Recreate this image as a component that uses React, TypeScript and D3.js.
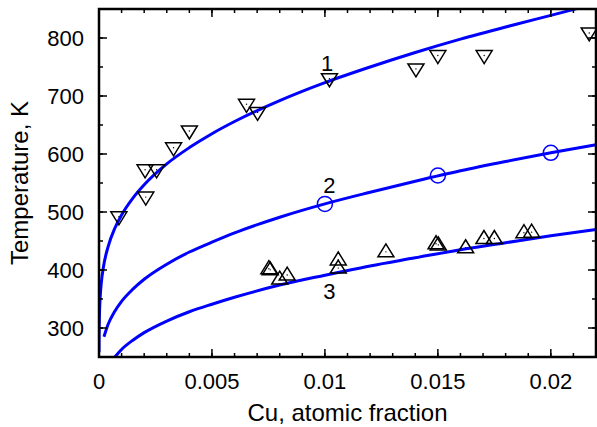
import React from "react";
import * as d3 from "d3";

// ---- data ----
const series1X = [0.00088, 0.00207, 0.00204, 0.00255, 0.0033, 0.004, 0.00653, 0.00702, 0.0102, 0.01403, 0.0150, 0.01705, 0.0217];
const series1T = [490, 524, 571, 571, 609, 638, 684, 670, 728, 745, 768, 768, 807];

const series2X = [0.0100, 0.0150, 0.0200];
const series2T = [514, 563, 602];

const series3X = [0.00752, 0.00758, 0.0080, 0.00833, 0.01059, 0.01059, 0.0127, 0.01492, 0.01502, 0.01623, 0.01704, 0.0175, 0.01881, 0.01915];
const series3T = [404, 402, 386, 393, 419, 405, 433, 447, 445, 440, 456, 456, 466, 467];

const curve1X = [0.000001, 0.000005, 0.00002, 0.00005, 0.0001, 0.0002, 0.0004, 0.0007, 0.001, 0.0015, 0.002, 0.003, 0.004, 0.005, 0.006, 0.008, 0.010, 0.012, 0.014, 0.016, 0.018, 0.020, 0.0212];
const curve1T = [258, 287, 322, 351, 377, 406, 440, 472, 495, 524, 547, 583, 611, 635, 656, 692, 723, 750, 775, 798, 819, 839, 851];

const curve2X = [0.00022, 0.0004, 0.0007, 0.001, 0.0015, 0.002, 0.003, 0.004, 0.005, 0.006, 0.008, 0.010, 0.012, 0.014, 0.016, 0.018, 0.020, 0.022];
const curve2T = [285, 306, 329, 346, 367, 384, 410, 431, 448, 464, 491, 514, 534, 553, 571, 587, 602, 616];

const curve3X = [0.0007, 0.001, 0.0015, 0.002, 0.003, 0.004, 0.005, 0.006, 0.008, 0.010, 0.012, 0.014, 0.016, 0.018, 0.020, 0.022];
const curve3T = [250, 263, 279, 292, 312, 328, 341, 353, 374, 391, 407, 421, 435, 447, 459, 470];

const xMajor = [0, 0.005, 0.01, 0.015, 0.02];
const xMajorLabels = ["0", "0.005", "0.01", "0.015", "0.02"];
const xMinor = d3.range(0, 23).map((i) => i / 1000);
const yMajor = [300, 400, 500, 600, 700, 800];
const yMajorLabels = ["300", "400", "500", "600", "700", "800"];
const yMinor = d3.range(250, 851, 50);

const curveLabels = ["1", "2", "3"];
const curveLabelX = [0.0101, 0.0102, 0.0102];
const curveLabelT = [757, 546, 364];

// ---- layout ----
const W = 597;
const H = 427;
const L = 99;
const R = 596;
const T = 9;
const B = 357;

export default function App() {
  const x = d3.scaleLinear().domain([0, 0.022]).range([L, R]);
  const y = d3.scaleLinear().domain([250, 850]).range([B, T]);
  const line = d3
    .line<[number, number]>()
    .x((d) => x(d[0]))
    .y((d) => y(d[1]))
    .curve(d3.curveMonotoneX);

  const c1 = curve1X.map((v, i) => [v, curve1T[i]] as [number, number]);
  const c2 = curve2X.map((v, i) => [v, curve2T[i]] as [number, number]);
  const c3 = curve3X.map((v, i) => [v, curve3T[i]] as [number, number]);

  const font = "'Liberation Sans', Arial, Helvetica, sans-serif";
  const blue = "#0000ff";
  const hw = 8;
  const hh = 6;

  return (
    <svg
      width={W}
      height={H}
      style={{ position: "absolute", left: 0, top: 0, background: "#fff" }}
      fontFamily={font}
    >
      <defs>
        <clipPath id="plot">
          <rect x={L} y={T} width={R - L} height={B - T} />
        </clipPath>
      </defs>
      <rect x={0} y={0} width={W} height={H} fill="#fff" />

      <g clipPath="url(#plot)">
        <path d={line(c1) || ""} fill="none" stroke={blue} strokeWidth={3} />
        <path d={line(c2) || ""} fill="none" stroke={blue} strokeWidth={3} />
        <path d={line(c3) || ""} fill="none" stroke={blue} strokeWidth={3} />

        {series1X.map((v, i) => {
          const cx = x(v);
          const cy = y(series1T[i]);
          return (
            <g key={"s1" + i}>
              <path
                d={`M${cx - hw},${cy - hh}L${cx + hw},${cy - hh}L${cx},${cy + hh + 1}Z`}
                fill="none"
                stroke="#000"
                strokeWidth={1.5}
              />
              <circle cx={cx} cy={cy - 1} r={0.7} fill="#000" />
            </g>
          );
        })}
        {series3X.map((v, i) => {
          const cx = x(v);
          const cy = y(series3T[i]);
          return (
            <g key={"s3" + i}>
              <path
                d={`M${cx - hw},${cy + hh}L${cx + hw},${cy + hh}L${cx},${cy - hh - 1}Z`}
                fill="none"
                stroke="#000"
                strokeWidth={1.5}
              />
              <circle cx={cx} cy={cy + 1} r={0.7} fill="#000" />
            </g>
          );
        })}
        {series2X.map((v, i) => (
          <circle
            key={"s2" + i}
            cx={x(v)}
            cy={y(series2T[i])}
            r={7.5}
            fill="none"
            stroke={blue}
            strokeWidth={1.5}
          />
        ))}
      </g>

      {curveLabels.map((s, i) => (
        <text
          key={"cl" + i}
          x={x(curveLabelX[i])}
          y={y(curveLabelT[i])}
          dy="0.36em"
          textAnchor="middle"
          fontSize={22}
          fill="#000"
        >
          {s}
        </text>
      ))}

      {/* ticks */}
      <g stroke="#000" strokeWidth={1.5}>
        {xMinor.map((v, i) => (
          <g key={"xm" + i}>
            <line x1={x(v)} x2={x(v)} y1={B} y2={B - 4} />
            <line x1={x(v)} x2={x(v)} y1={T} y2={T + 4} />
          </g>
        ))}
        {xMajor.map((v, i) => (
          <g key={"xM" + i}>
            <line x1={x(v)} x2={x(v)} y1={B} y2={B - 8} />
            <line x1={x(v)} x2={x(v)} y1={T} y2={T + 8} />
          </g>
        ))}
        {yMinor.map((v, i) => (
          <g key={"ym" + i}>
            <line x1={L} x2={L + 4} y1={y(v)} y2={y(v)} />
            <line x1={R} x2={R - 4} y1={y(v)} y2={y(v)} />
          </g>
        ))}
        {yMajor.map((v, i) => (
          <g key={"yM" + i}>
            <line x1={L} x2={L + 8} y1={y(v)} y2={y(v)} />
            <line x1={R} x2={R - 8} y1={y(v)} y2={y(v)} />
          </g>
        ))}
      </g>

      <rect x={L} y={T} width={R - L} height={B - T} fill="none" stroke="#000" strokeWidth={2.5} />

      {xMajor.map((v, i) => (
        <text key={"xl" + i} x={x(v)} y={389} textAnchor="middle" fontSize={22} fill="#000">
          {xMajorLabels[i]}
        </text>
      ))}
      {yMajor.map((v, i) => (
        <text key={"yl" + i} x={84} y={y(v)} dy="0.36em" textAnchor="end" fontSize={22} fill="#000">
          {yMajorLabels[i]}
        </text>
      ))}

      <text x={(L + R) / 2} y={421} textAnchor="middle" fontSize={24} fill="#000">
        Cu, atomic fraction
      </text>
      <text
        transform={`translate(28,${(T + B) / 2}) rotate(-90)`}
        textAnchor="middle"
        fontSize={24}
        fill="#000"
      >
        Temperature, K
      </text>
    </svg>
  );
}
